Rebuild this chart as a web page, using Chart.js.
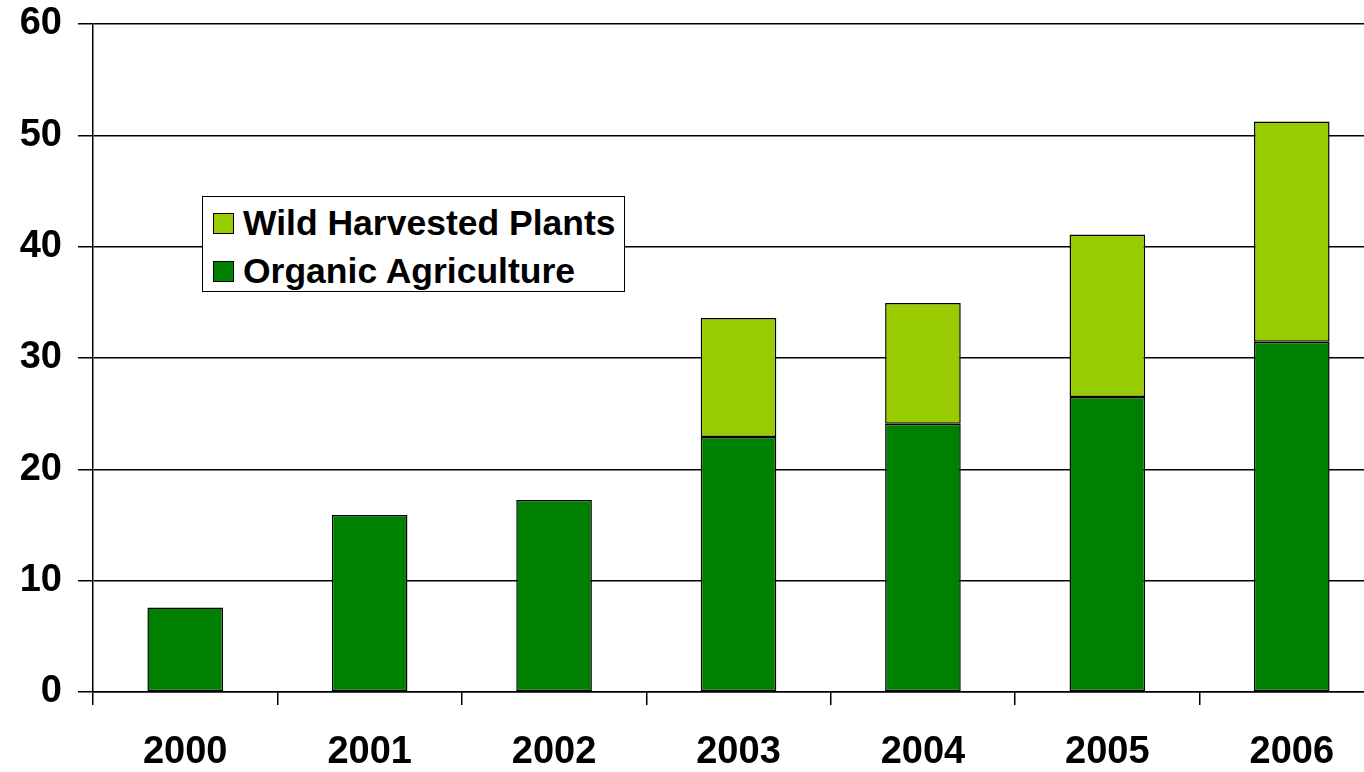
<!DOCTYPE html>
<html>
<head>
<meta charset="utf-8">
<script src="https://cdn.jsdelivr.net/npm/chart.js@4"></script>
<style>
  html, body { margin:0; padding:0; background:#fff; overflow:hidden; }
  #wrap { position:relative; width:1364px; height:772px; overflow:hidden; }
  #c { position:absolute; left:0; top:0; }
  #legend { position:absolute; left:202px; top:196px; width:421px; height:94px;
    border:1.5px solid #000; background:#fff; font-family:"Liberation Sans", Arial, sans-serif;
    font-weight:bold; font-size:35.5px; color:#000; }
  .row { position:absolute; left:10px; height:40px; display:flex; align-items:center; white-space:nowrap; }
  .sw { width:19px; height:19px; border:1.5px solid #000; margin-right:9px; flex:none; }
</style>
</head>
<body>
<div id="wrap">
  <canvas id="c" width="1384" height="772"></canvas>
  <div id="legend">
    <div class="row" style="top:6px"><span class="sw" style="background:#99CC00"></span><span id="l1"></span></div>
    <div class="row" style="top:54px"><span class="sw" style="background:#008000"></span><span id="l2"></span></div>
  </div>
</div>
<script>
const categories = ["2000", "2001", "2002", "2003", "2004", "2005", "2006"];
const organicAgriculture = [7.6, 15.9, 17.25, 22.9, 24.1, 26.5, 31.45];
const wildHarvested = [null, null, null, 10.7, 10.85, 14.6, 19.8];
const seriesNames = ["Wild Harvested Plants", "Organic Agriculture"];
const yTicks = [0, 10, 20, 30, 40, 50, 60];

document.getElementById('l1').textContent = seriesNames[0];
document.getElementById('l2').textContent = seriesNames[1];

const FONT = "'Liberation Sans', Arial, sans-serif";

new Chart(document.getElementById('c'), {
  type: 'bar',
  data: {
    labels: categories,
    datasets: [
      { label: seriesNames[1], data: organicAgriculture, backgroundColor: '#008000',
        borderColor: '#000', borderWidth: 1.5, borderSkipped: false, stack: 's' },
      { label: seriesNames[0], data: wildHarvested, backgroundColor: '#99CC00',
        borderColor: '#000', borderWidth: 1.5, borderSkipped: false, stack: 's' }
    ]
  },
  options: {
    responsive: false,
    animation: false,
    devicePixelRatio: 1,
    layout: { padding: { top: 24, right: 0, left: 0, bottom: 0 } },
    plugins: { legend: { display: false }, tooltip: { enabled: false } },
    datasets: { bar: { categoryPercentage: 1.0, barPercentage: 0.41 } },
    scales: {
      x: {
        stacked: true,
        offset: true,
        grid: { display: true, drawOnChartArea: false, drawTicks: true, tickLength: 13,
                color: '#000', lineWidth: 1.5, offset: true },
        border: { display: true, color: '#000', width: 1.5 },
        ticks: { color: '#000', padding: 25, maxRotation: 0,
                 font: { family: FONT, size: 38, weight: 'bold' } },
        afterFit: (s) => { s.height = 80; }
      },
      y: {
        stacked: true,
        min: 0, max: 60,
        afterBuildTicks: (s) => { s.ticks = yTicks.map(v => ({ value: v })); },
        grid: { color: '#000', lineWidth: 1.5, drawTicks: true, tickLength: 15 },
        border: { display: true, color: '#000', width: 1.5 },
        ticks: { color: '#000', padding: 16,
                 font: { family: FONT, size: 38, weight: 'bold', lineHeight: 0.5 } },
        afterFit: (s) => { s.width = 93; s.paddingTop = 0; }
      }
    }
  }
});
</script>
</body>
</html>
